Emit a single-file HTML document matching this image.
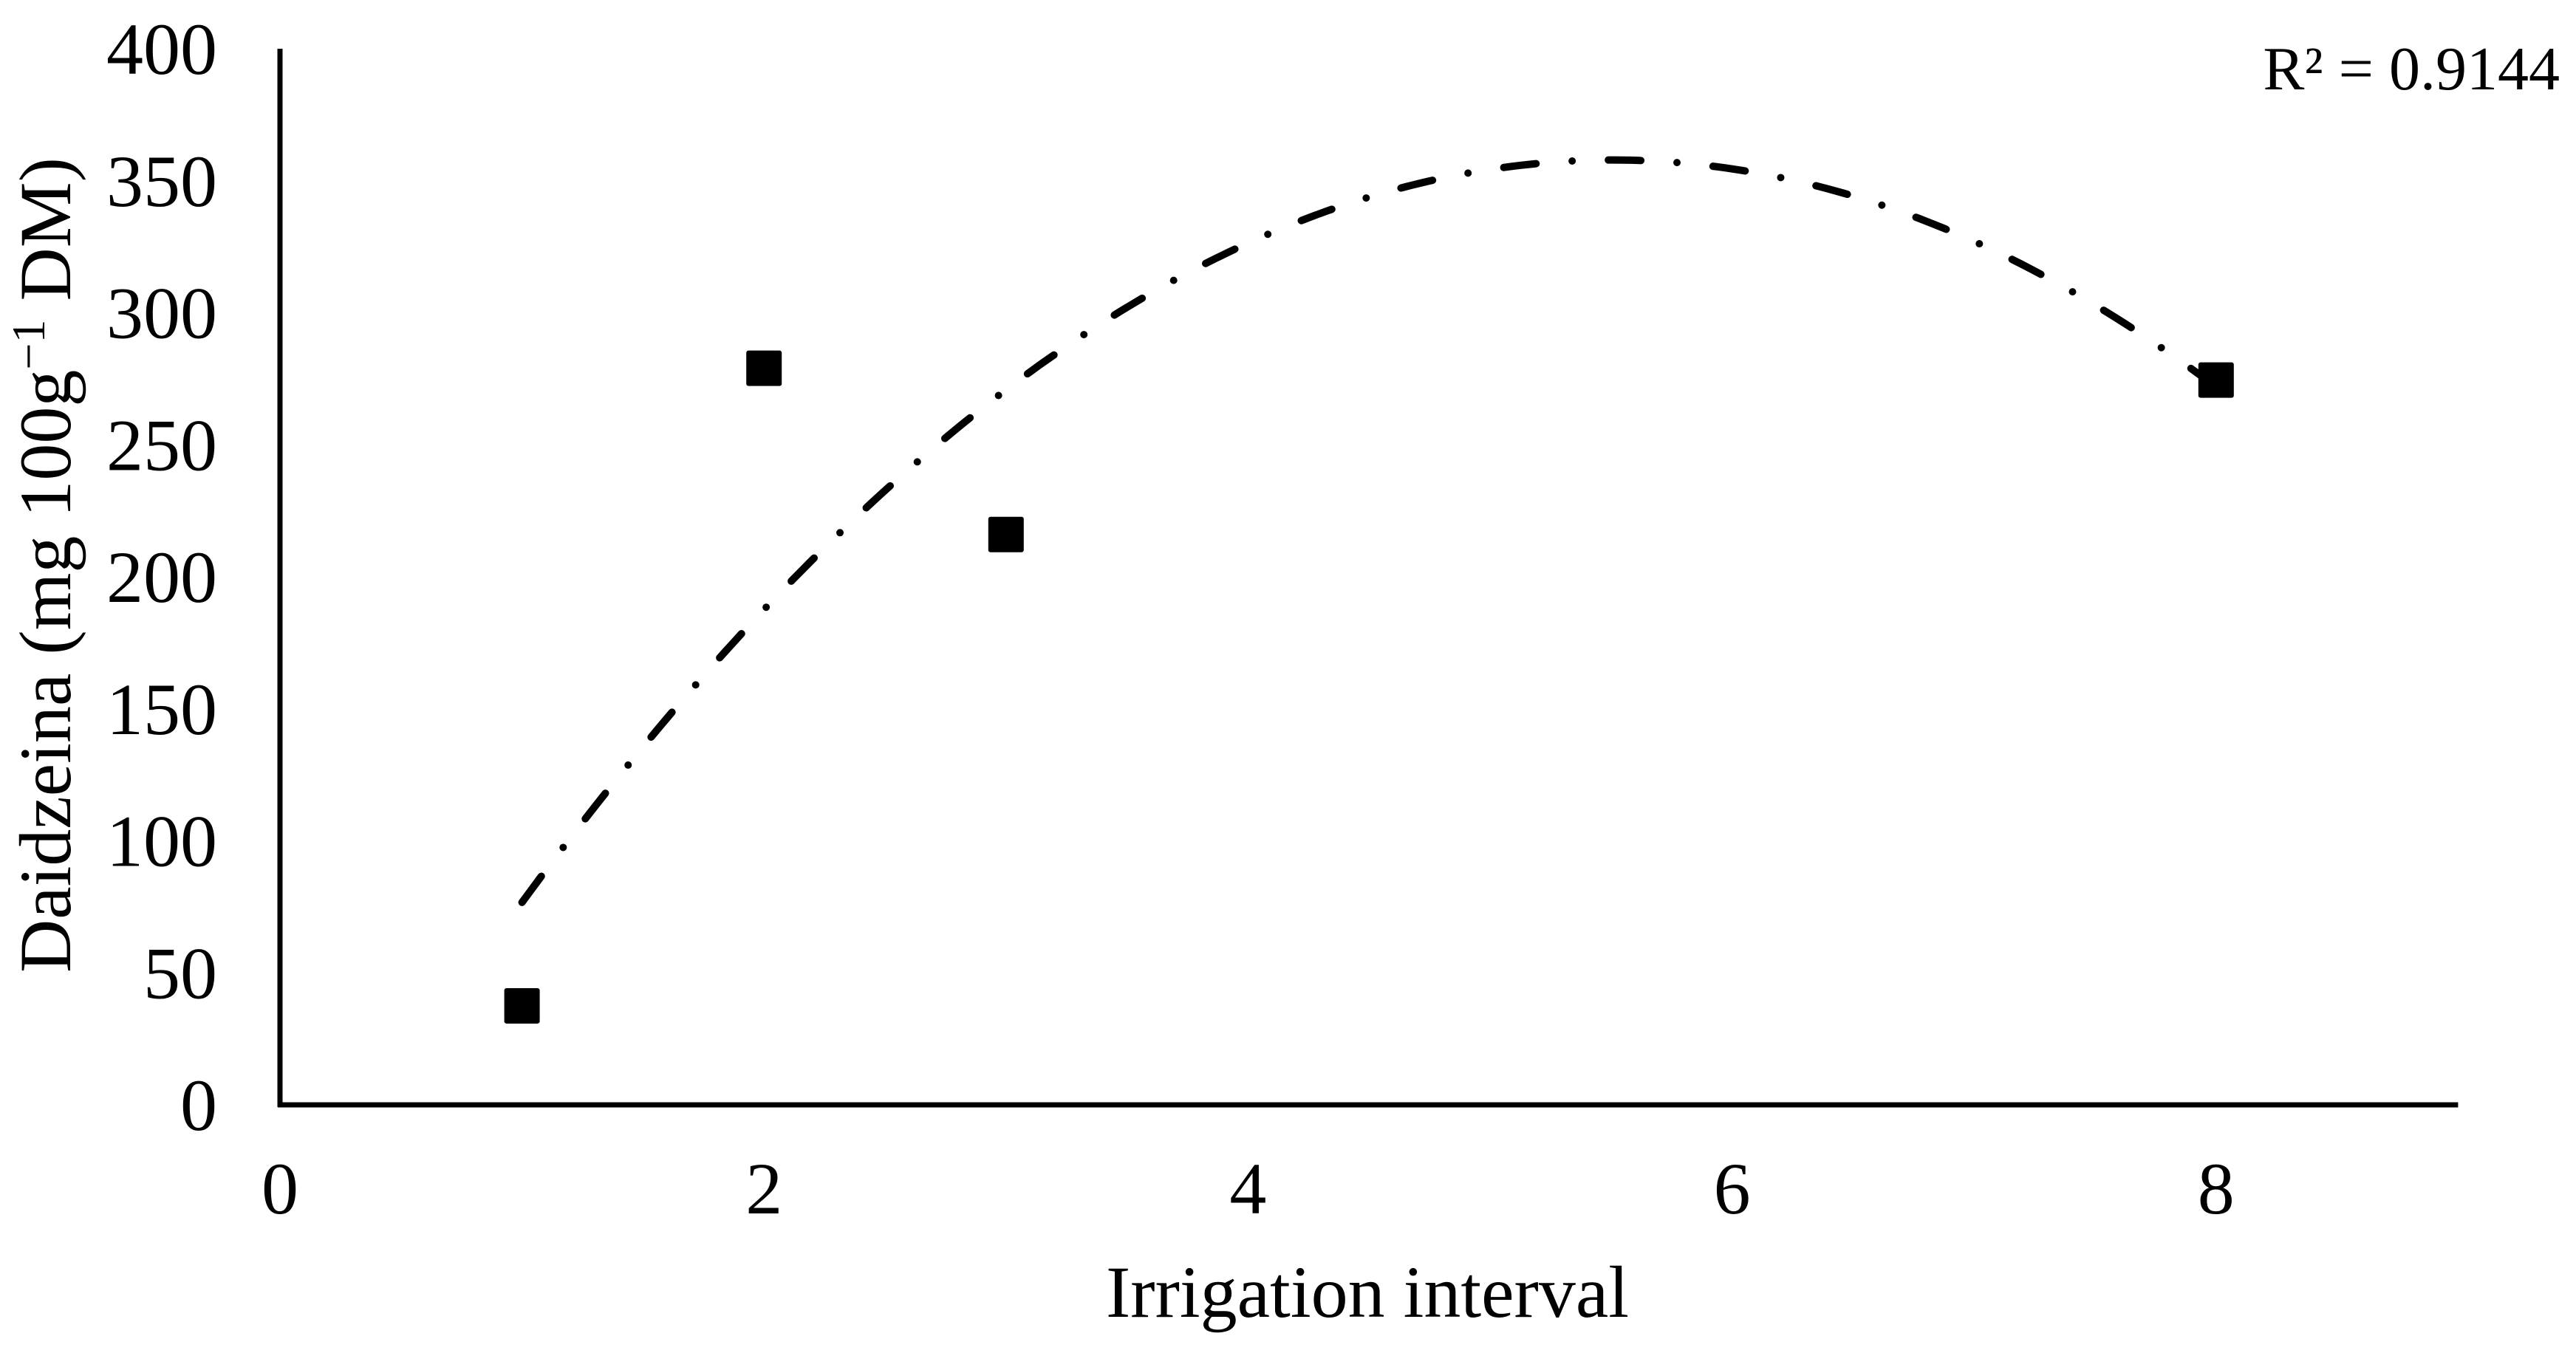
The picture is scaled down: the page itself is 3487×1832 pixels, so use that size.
<!DOCTYPE html>
<html><head><meta charset="utf-8"><style>
html,body{margin:0;padding:0;background:#fff;}
svg{display:block;font-family:"Liberation Serif",serif;}
</style></head><body>
<svg id="chart" width="3487" height="1832" viewBox="0 0 3487 1832" xmlns="http://www.w3.org/2000/svg">
<rect width="3487" height="1832" fill="#fff"/>
<g id="grid"></g>
<g id="marks"></g>
<text x="3465" y="121" font-size="84" text-anchor="end">R² = 0.9144</text>
<text x="1851" y="1783" font-size="100" text-anchor="middle">Irrigation interval</text>
<text transform="translate(95,765) rotate(-90)" font-size="100" text-anchor="middle">Daidzeina (mg 100g<tspan font-size="64" dy="-35">−1</tspan><tspan dy="35"> DM)</tspan></text>
</svg>
<script>
const xValues = [1, 2, 3, 8];
const yValues = [37.5, 279, 216, 274.5];
const xTicks = [0, 2, 4, 6, 8];
const yTicks = [0, 50, 100, 150, 200, 250, 300, 350, 400];

const X0 = 379, XU = 327.6, Y0 = 1496, YU = 3.575;
function sx(v){ return X0 + v * XU; }
function sy(v){ return Y0 - v * YU; }
const NS = 'http://www.w3.org/2000/svg';
const marks = document.getElementById('marks');
const grid = document.getElementById('grid');
function mk(tag, attrs, parent){
  const e = document.createElementNS(NS, tag);
  for (const k in attrs) e.setAttribute(k, attrs[k]);
  parent.appendChild(e);
  return e;
}
const ya = mk('line', {x1: X0, y1: sy(400), x2: X0, y2: Y0 + 3, stroke: '#000', 'stroke-width': 7}, grid);


const xa = mk('line', {x1: X0 - 3, y1: Y0, x2: sx(9), y2: Y0, stroke: '#000', 'stroke-width': 7}, grid);


yTicks.forEach(t => {
  const e = mk('text', {x: 294, y: sy(t) + 34, 'font-size': 100, 'text-anchor': 'end'}, grid);
  e.textContent = t;
  
  
});
xTicks.forEach(t => {
  const e = mk('text', {x: sx(t), y: 1643, 'font-size': 100, 'text-anchor': 'middle'}, grid);
  e.textContent = t;
  
  
});
function solve3(A, b){
  const M = A.map((r,i)=>r.concat([b[i]]));
  for (let i=0;i<3;i++){
    let p=i; for(let r=i+1;r<3;r++) if(Math.abs(M[r][i])>Math.abs(M[p][i])) p=r;
    [M[i],M[p]]=[M[p],M[i]];
    for(let r=0;r<3;r++){ if(r===i) continue; const f=M[r][i]/M[i][i]; for(let c=i;c<4;c++) M[r][c]-=f*M[i][c]; }
  }
  return [M[0][3]/M[0][0], M[1][3]/M[1][1], M[2][3]/M[2][2]];
}
let S=[0,0,0,0,0], T=[0,0,0];
xValues.forEach((x,i)=>{ const y=yValues[i]; for(let k=0;k<5;k++) S[k]+=Math.pow(x,k); for(let k=0;k<3;k++) T[k]+=y*Math.pow(x,k); });
const coef = solve3([[S[0],S[1],S[2]],[S[1],S[2],S[3]],[S[2],S[3],S[4]]], T);
const xmin = Math.min(...xValues), xmax = Math.max(...xValues);
let d = '';
for (let i=0;i<=200;i++){
  const x = xmin + (xmax - xmin) * i / 200;
  const y = coef[0] + coef[1]*x + coef[2]*x*x;
  d += (i ? 'L' : 'M') + sx(x).toFixed(1) + ',' + sy(y).toFixed(1);
}
const tl = mk('path', {d: d, fill: 'none', stroke: '#000', 'stroke-width': 10, 'stroke-linecap': 'round', 'stroke-dasharray': '44 49 0 49'}, marks);


xValues.forEach((x,i)=>{
  const r = mk('rect', {x: sx(x) - 24, y: sy(yValues[i]) - 24, width: 48, height: 48, rx: 3, fill: '#000'}, marks);
  
  
});
</script>
</body></html>
